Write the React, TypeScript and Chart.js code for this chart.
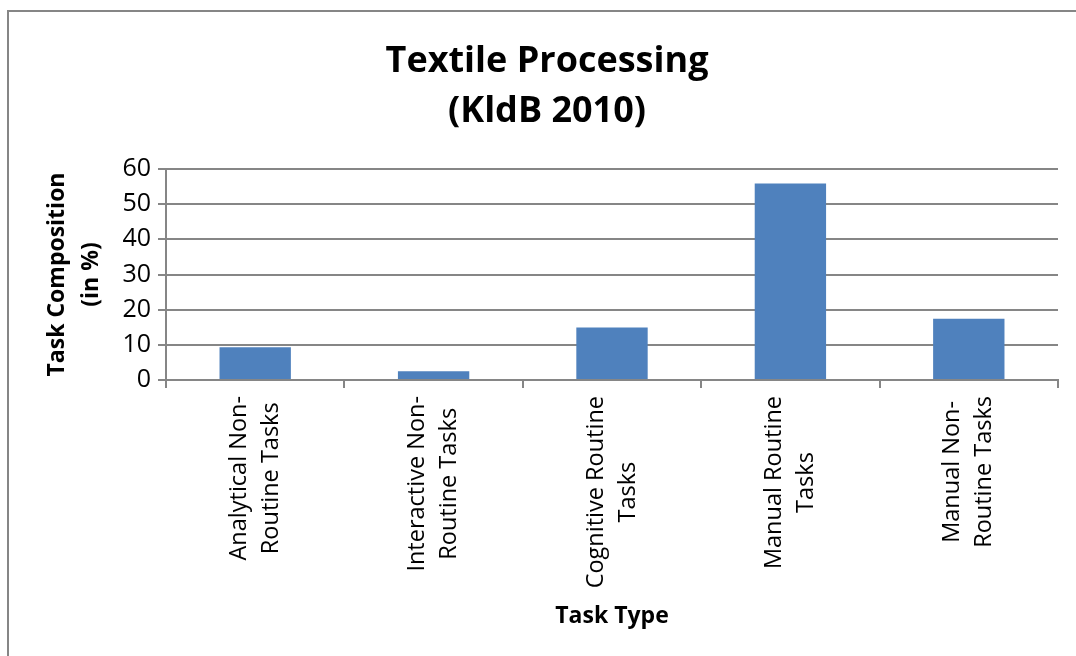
import React, { useEffect, useRef } from "react";
import { Chart, registerables } from "chart.js";

Chart.register(...registerables);

const categories: string[][] = [
  ["Analytical Non-", "Routine Tasks"],
  ["Interactive Non-", "Routine Tasks"],
  ["Cognitive Routine", "Tasks"],
  ["Manual Routine", "Tasks"],
  ["Manual Non-", "Routine Tasks"],
];
const values: number[] = [9.3, 2.5, 14.9, 55.9, 17.4];
const yTicks: number[] = [0, 10, 20, 30, 40, 50, 60];
const titleLines: string[] = ["Textile Processing", "(KldB 2010)"];
const yTitleLines: string[] = ["Task Composition", "(in %)"];
const xTitle = "Task Type";

const FONT = "'Open Sans', sans-serif";
const GRID = "#868686";

const framePlugin = {
  id: "frameAndTitle",
  beforeDraw(chart: any) {
    const ctx = chart.ctx;
    ctx.save();
    ctx.fillStyle = "#ffffff";
    ctx.fillRect(0, 0, chart.width, chart.height);
    ctx.strokeStyle = GRID;
    ctx.lineWidth = 2;
    ctx.beginPath();
    ctx.moveTo(8, chart.height + 2);
    ctx.lineTo(8, 11);
    ctx.lineTo(chart.width + 2, 11);
    ctx.stroke();
    ctx.restore();
  },
  afterDraw(chart: any) {
    const ctx = chart.ctx;
    ctx.save();
    // chart title
    ctx.fillStyle = "#000";
    ctx.textAlign = "center";
    ctx.textBaseline = "alphabetic";
    ctx.font = `bold 36px ${FONT}`;
    titleLines.forEach((t, i) => ctx.fillText(t, 547, 72 + i * 50));
    // category labels, rotated, lines centred on each other
    const xs = chart.scales.x;
    ctx.font = `23.5px ${FONT}`;
    ctx.textAlign = "center";
    ctx.textBaseline = "middle";
    (chart.data.labels as any[]).forEach((lab, i) => {
      const lines: string[] = Array.isArray(lab) ? lab : [lab];
      const cx = xs.getPixelForValue(i);
      const maxW = Math.max(...lines.map((l) => ctx.measureText(l).width));
      const cy = xs.top + 16 + maxW / 2;
      lines.forEach((line, j) => {
        const lx = cx + (j - (lines.length - 1) / 2) * 32;
        ctx.save();
        ctx.translate(lx, cy);
        ctx.rotate(-Math.PI / 2);
        ctx.fillText(line, 0, 0);
        ctx.restore();
      });
    });
    ctx.restore();
  },
};

export default function App() {
  const ref = useRef<HTMLCanvasElement | null>(null);
  useEffect(() => {
    if (!ref.current) return;
    const chart = new Chart(ref.current, {
      type: "bar",
      data: {
        labels: categories,
        datasets: [
          {
            data: values,
            backgroundColor: "#4F81BD",
            borderWidth: 0,
            categoryPercentage: 1,
            barPercentage: 0.4,
          },
        ],
      },
      options: {
        responsive: false,
        animation: false,
        events: [],
        layout: { padding: { left: 0, top: 169, right: 18, bottom: 0 } },
        plugins: {
          legend: { display: false },
          tooltip: { enabled: false },
          title: { display: false },
        },
        scales: {
          x: {
            grid: {
              drawOnChartArea: false,
              drawTicks: true,
              tickLength: 8,
              color: GRID,
              lineWidth: 2,
              offset: true,
            },
            border: { color: GRID, width: 2 },
            ticks: { display: false },
            title: {
              display: true,
              text: xTitle,
              color: "#000",
              font: { family: FONT, size: 23, weight: "bold", lineHeight: "30px" },
              padding: { top: 0, bottom: 25 },
            },
            afterFit(s: any) {
              s.height = 276;
            },
          },
          y: {
            min: 0,
            max: 60,
            afterBuildTicks(s: any) {
              s.ticks = yTicks.map((v) => ({ value: v }));
            },
            ticks: {
              padding: 7,
              color: "#000",
              font: { family: FONT, size: 25 },
            },
            grid: { color: GRID, lineWidth: 2, tickLength: 8 },
            border: { color: GRID, width: 2 },
            title: {
              display: true,
              text: yTitleLines,
              color: "#000",
              font: { family: FONT, size: 23, weight: "bold", lineHeight: "34px" },
              padding: { top: 40, bottom: 0 },
            },
            afterFit(s: any) {
              s.width = 166;
            },
          },
        },
      },
      plugins: [framePlugin],
    } as any);
    return () => chart.destroy();
  }, []);
  return (
    <div style={{ position: "fixed", left: 0, top: 0, width: 1076, height: 656, background: "#fff" }}>
      <canvas ref={ref} width={1076} height={656} style={{ display: "block" }} />
    </div>
  );
}
